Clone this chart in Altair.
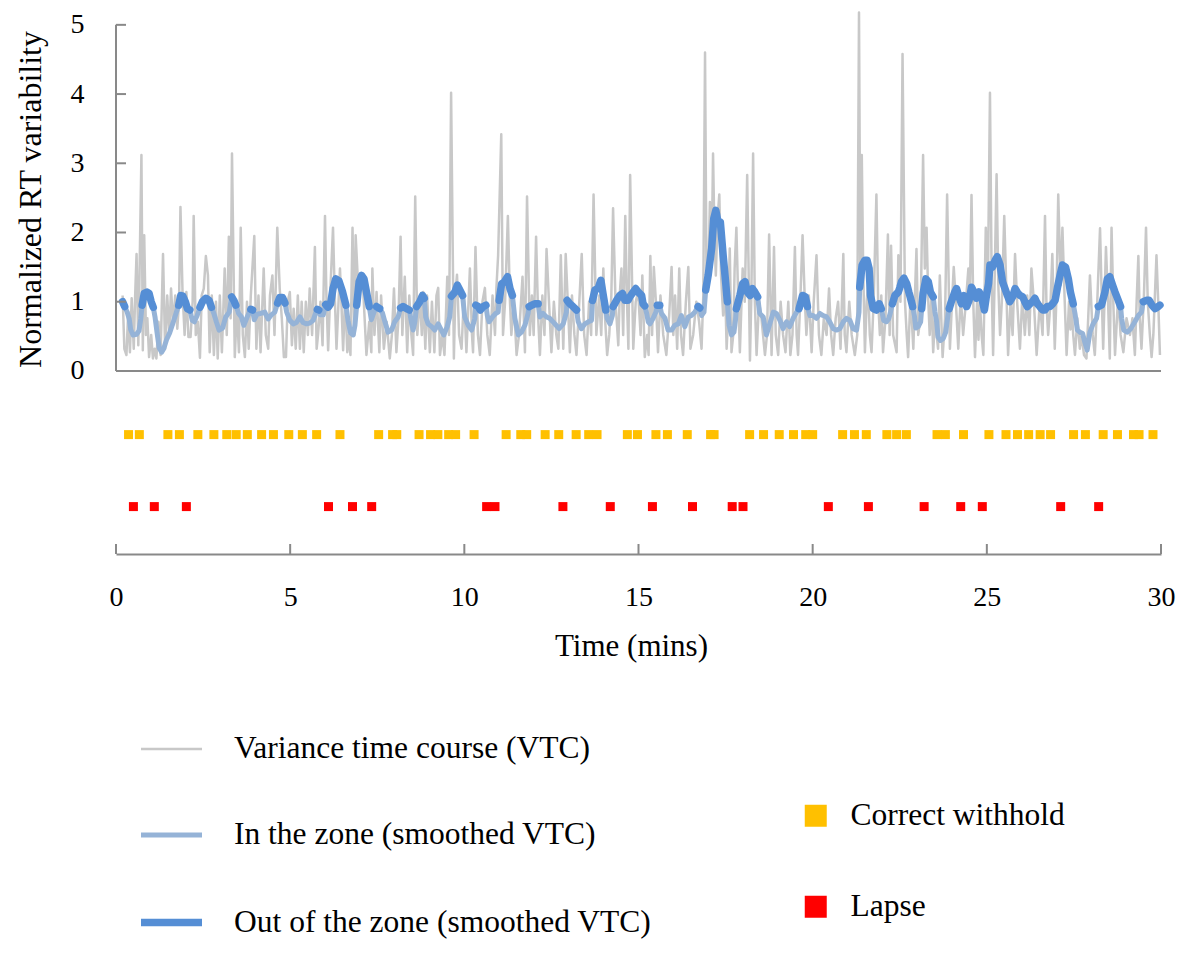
import altair as alt
import pandas as pd

# ---------------- data ----------------
GRAY_T = [0.19,0.24,0.30,0.35,0.40,0.45,0.51,0.55,0.59,0.64,0.67,0.73,0.77,0.81,0.86,0.90,0.95,1.01,1.06,1.11,
          1.16,1.22,1.28,1.35,1.41,1.47,1.53,1.58,1.64,1.70,1.76,1.81,1.85,1.91,1.97,2.02,2.08,2.14,2.20,2.23,
          2.29,2.35,2.41,2.46,2.52,2.58,2.64,2.69,2.75,2.81,2.87,2.92,2.98,3.04,3.12,3.18,3.24,3.29,3.33,3.41,
          3.47,3.53,3.58,3.64,3.70,3.76,3.81,3.87,3.97,4.03,4.09,4.15,4.24,4.30,4.37,4.42,4.49,4.55,4.63,4.70,
          4.76,4.82,4.88,4.93,4.99,5.05,5.10,5.16,5.22,5.28,5.33,5.39,5.45,5.51,5.56,5.63,5.71,5.76,5.80,5.87,
          5.93,6.00,6.04,6.09,6.16,6.23,6.28,6.33,6.43,6.47,6.52,6.58,6.64,6.69,6.73,6.79,6.84,6.88,6.95,7.02,
          7.10,7.19,7.27,7.33,7.36,7.42,7.48,7.56,7.61,7.69,7.77,7.86,7.92,7.98,8.05,8.11,8.17,8.22,8.29,8.36,
          8.42,8.48,8.53,8.59,8.65,8.72,8.78,8.82,8.88,8.93,9.01,9.07,9.14,9.20,9.25,9.30,9.37,9.43,9.51,9.56,
          9.62,9.70,9.74,9.79,9.85,9.92,9.99,10.06,10.16,10.22,10.25,10.32,10.39,10.45,10.52,10.59,10.66,10.73,10.81,10.88,
          10.92,10.97,11.06,11.11,11.17,11.25,11.31,11.35,11.42,11.50,11.57,11.67,11.74,11.80,11.88,11.94,11.99,12.06,12.12,12.17,
          12.24,12.30,12.36,12.43,12.50,12.57,12.64,12.70,12.77,12.84,12.91,12.97,13.03,13.09,13.16,13.22,13.30,13.37,13.44,13.51,
          13.58,13.64,13.71,13.79,13.87,13.93,13.99,14.04,14.10,14.16,14.22,14.27,14.34,14.42,14.46,14.51,14.56,14.62,14.67,14.71,
          14.76,14.85,14.92,14.99,15.06,15.11,15.18,15.25,15.29,15.34,15.39,15.44,15.50,15.56,15.63,15.71,15.80,15.88,15.95,16.00,
          16.05,16.11,16.17,16.22,16.28,16.36,16.43,16.49,16.57,16.66,16.74,16.81,16.86,16.91,16.95,17.00,17.05,17.10,17.14,17.18,
          17.22,17.27,17.32,17.37,17.43,17.48,17.53,17.57,17.62,17.67,17.72,17.76,17.81,17.86,17.91,17.99,18.05,18.12,18.20,18.24,
          18.29,18.34,18.39,18.46,18.53,18.63,18.69,18.75,18.82,18.89,18.94,19.01,19.08,19.15,19.22,19.30,19.36,19.42,19.49,19.54,
          19.58,19.65,19.71,19.77,19.82,19.89,19.97,20.03,20.11,20.18,20.25,20.32,20.40,20.47,20.53,20.59,20.66,20.73,20.80,20.88,
          20.92,20.97,21.05,21.12,21.21,21.28,21.33,21.37,21.41,21.45,21.50,21.55,21.59,21.64,21.69,21.75,21.83,21.88,21.93,21.97,
          22.02,22.09,22.16,22.21,22.25,22.31,22.41,22.46,22.52,22.58,22.65,22.70,22.74,22.81,22.89,22.93,22.98,23.03,23.10,23.17,
          23.22,23.27,23.32,23.36,23.41,23.46,23.51,23.56,23.60,23.65,23.73,23.80,23.86,23.94,24.00,24.05,24.11,24.18,24.25,24.32,
          24.40,24.47,24.51,24.56,24.61,24.66,24.72,24.76,24.80,24.85,24.90,24.97,25.03,25.09,25.14,25.18,25.23,25.28,25.33,25.38,
          25.43,25.50,25.57,25.61,25.68,25.74,25.81,25.87,25.95,26.02,26.09,26.16,26.22,26.28,26.35,26.43,26.52,26.60,26.67,26.71,
          26.76,26.83,26.88,26.95,27.00,27.05,27.12,27.17,27.23,27.29,27.36,27.40,27.43,27.48,27.53,27.60,27.67,27.72,27.79,27.86,
          27.91,27.96,28.04,28.10,28.17,28.25,28.29,28.34,28.42,28.48,28.53,28.58,28.63,28.68,28.77,28.84,28.92,29.01,29.11,29.18,
          29.25,29.30,29.35,29.39,29.44,29.51,29.57,29.62,29.68,29.73,29.78,29.87,29.92,29.97]
GRAY_V = [1.09,0.32,0.23,0.85,0.27,1.05,0.32,1.09,1.69,0.37,1.24,3.12,0.30,1.96,0.52,0.76,0.20,0.52,0.18,0.32,
          0.18,0.71,0.23,1.69,0.32,1.09,0.52,1.19,0.66,1.09,0.61,1.00,2.37,1.14,0.52,1.14,0.49,0.49,1.00,2.24,
          0.52,0.71,0.19,1.09,1.19,1.66,1.38,0.27,1.09,0.23,1.00,0.18,1.09,0.27,1.48,0.52,1.94,0.76,3.14,0.20,
          0.90,0.27,2.07,0.52,0.20,1.00,0.32,1.09,1.95,0.32,1.09,0.27,1.48,0.52,0.32,1.09,1.38,0.52,2.07,1.19,
          0.76,0.20,0.20,1.00,1.14,0.37,0.90,0.32,1.09,0.32,1.00,0.27,1.00,0.52,1.19,0.52,1.79,0.32,0.52,1.00,
          0.37,2.24,1.09,0.30,1.24,2.07,1.09,0.32,1.48,1.00,0.30,1.09,0.27,0.52,0.23,2.07,0.52,1.96,1.24,1.33,
          1.14,0.23,0.71,0.27,1.48,0.52,1.14,0.27,1.09,0.32,0.71,0.18,0.52,1.19,0.27,0.76,1.94,0.52,1.36,0.27,
          1.09,0.52,0.23,2.52,0.52,1.09,0.52,1.14,0.32,1.09,0.27,1.00,0.27,1.09,1.20,0.23,0.52,0.23,1.36,0.52,
          4.02,0.18,1.09,1.39,0.52,0.32,1.09,0.27,1.48,0.52,0.27,1.79,0.52,0.23,1.00,1.20,0.52,0.23,1.09,0.52,
          1.19,1.67,3.42,0.52,1.00,2.24,1.00,0.52,1.00,0.23,0.52,1.36,0.27,2.52,0.52,1.09,0.52,1.94,0.76,0.23,
          1.09,0.52,1.76,1.00,0.27,1.00,0.52,0.32,1.67,0.32,1.69,1.00,0.27,1.09,0.52,0.23,1.00,1.69,0.52,0.23,
          1.00,0.52,2.55,0.52,1.09,0.52,1.48,0.76,0.23,0.52,1.09,2.35,1.00,0.37,1.09,1.48,0.52,2.24,1.00,0.32,
          2.83,0.32,1.00,1.14,0.52,1.38,0.20,0.52,0.23,1.66,0.52,1.50,1.00,0.27,1.09,0.52,0.23,0.80,1.50,0.52,
          1.09,0.32,1.48,0.52,0.23,1.00,1.50,0.32,0.52,1.00,0.71,0.32,1.09,4.60,1.48,1.24,2.44,1.57,3.14,1.96,
          1.38,2.20,2.55,1.38,0.80,1.38,0.32,0.76,1.77,0.27,0.52,1.48,2.07,1.09,0.27,1.48,1.00,2.83,0.15,1.09,
          3.14,1.00,0.23,1.00,0.76,0.23,0.52,1.97,0.23,1.79,0.52,0.23,1.00,0.52,0.27,1.00,0.23,0.52,1.79,0.52,
          0.23,1.09,1.96,1.09,0.52,1.09,0.27,1.00,1.67,0.52,0.23,0.76,0.52,1.19,0.52,0.23,0.76,1.00,0.32,1.69,
          0.52,0.27,1.00,0.52,0.23,0.52,5.18,1.24,3.12,1.48,0.27,1.00,1.24,0.52,0.27,1.00,2.55,1.00,0.52,1.09,
          0.27,0.76,1.97,0.52,1.81,0.52,0.27,1.67,1.00,4.58,1.00,0.52,0.20,1.09,0.32,1.00,1.76,0.52,0.80,3.12,
          1.48,2.07,1.00,0.52,1.09,0.27,0.76,0.52,0.32,1.38,0.20,0.76,2.55,0.32,1.00,1.50,1.00,0.32,1.09,0.52,
          1.00,1.48,1.00,2.54,1.00,0.20,1.00,0.45,1.00,0.52,0.23,2.07,1.24,4.02,1.24,0.23,1.48,2.84,1.24,0.52,
          1.00,2.24,1.00,0.23,1.00,0.52,1.69,1.00,0.32,1.09,0.52,1.09,0.52,1.48,1.00,0.23,1.00,0.52,2.24,1.00,
          0.52,1.00,1.69,0.32,1.09,2.55,1.24,2.07,1.09,0.23,1.00,0.60,1.00,0.52,0.23,0.76,0.32,0.52,0.23,0.18,
          0.76,1.38,0.52,0.23,1.00,2.06,1.24,0.32,1.79,1.00,0.18,2.07,1.00,0.23,1.09,0.52,0.27,0.76,0.52,0.76,
          0.23,1.00,1.66,0.76,0.32,1.09,2.07,1.00,0.52,0.20,0.52,1.67,1.00,0.23]

SMOOTH_T = [0.19,0.25,0.32,0.38,0.42,0.49,0.59,0.66,0.71,0.75,0.81,0.89,0.95,1.01,1.07,1.12,1.18,1.24,1.31,1.37,
            1.45,1.54,1.64,1.74,1.80,1.86,1.92,1.99,2.05,2.12,2.19,2.25,2.33,2.41,2.48,2.58,2.67,2.74,2.81,2.88,
            2.96,3.06,3.15,3.25,3.32,3.38,3.44,3.52,3.60,3.67,3.75,3.82,3.87,3.92,3.97,4.05,4.15,4.27,4.37,4.46,
            4.56,4.64,4.70,4.78,4.85,4.90,4.99,5.09,5.18,5.28,5.37,5.47,5.56,5.66,5.74,5.78,5.82,5.86,5.95,6.02,
            6.09,6.16,6.23,6.31,6.40,6.50,6.60,6.66,6.73,6.81,6.86,6.91,6.98,7.05,7.12,7.19,7.27,7.33,7.40,7.48,
            7.57,7.65,7.72,7.81,7.91,8.00,8.10,8.17,8.24,8.34,8.42,8.48,8.53,8.58,8.63,8.72,8.80,8.85,8.89,8.96,
            9.06,9.15,9.25,9.34,9.41,9.51,9.58,9.63,9.73,9.80,9.87,9.95,10.01,10.11,10.21,10.30,10.33,10.40,10.46,10.54,
            10.62,10.66,10.71,10.81,10.90,10.97,11.00,11.07,11.14,11.24,11.31,11.38,11.45,11.55,11.64,11.74,11.83,11.86,11.94,12.02,
            12.12,12.17,12.26,12.36,12.45,12.60,12.72,12.84,12.93,12.95,13.03,13.12,13.22,13.27,13.36,13.46,13.56,13.65,13.68,13.75,
            13.84,13.92,13.99,14.06,14.10,14.18,14.25,14.27,14.37,14.46,14.54,14.61,14.70,14.75,14.85,14.92,14.99,15.09,15.13,15.18,
            15.23,15.28,15.33,15.42,15.50,15.54,15.61,15.66,15.76,15.85,15.95,16.04,16.14,16.23,16.33,16.43,16.52,16.62,16.71,16.76,
            16.81,16.88,16.93,17.00,17.10,17.16,17.22,17.29,17.35,17.43,17.50,17.55,17.60,17.67,17.74,17.79,17.81,17.91,17.99,18.06,
            18.12,18.20,18.27,18.34,18.42,18.48,18.58,18.67,18.77,18.87,18.96,19.06,19.15,19.25,19.34,19.44,19.54,19.61,19.71,19.79,
            19.85,19.92,20.01,20.11,20.21,20.30,20.40,20.49,20.59,20.68,20.78,20.88,20.97,21.07,21.16,21.26,21.33,21.35,21.42,21.50,
            21.56,21.62,21.66,21.74,21.83,21.91,21.97,22.04,22.12,22.18,22.23,22.29,22.36,22.46,22.50,22.55,22.62,22.70,22.76,22.81,
            22.87,22.92,22.96,23.03,23.10,23.13,23.17,23.25,23.32,23.38,23.46,23.51,23.56,23.60,23.67,23.75,23.82,23.89,23.92,23.98,
            24.08,24.13,24.20,24.27,24.34,24.42,24.49,24.56,24.63,24.70,24.78,24.85,24.93,24.99,25.05,25.09,25.16,25.24,25.30,25.38,
            25.45,25.52,25.59,25.66,25.74,25.81,25.87,25.95,26.03,26.09,26.16,26.24,26.31,26.38,26.45,26.52,26.60,26.67,26.73,26.81,
            26.89,26.96,27.03,27.10,27.17,27.26,27.34,27.40,27.48,27.53,27.60,27.67,27.75,27.81,27.88,27.96,28.05,28.15,28.20,28.29,
            28.39,28.46,28.53,28.61,28.68,28.75,28.84,28.87,28.93,29.03,29.13,29.25,29.35,29.44,29.49,29.59,29.66,29.74,29.83,29.92,
            29.97]
SMOOTH_V = [1.00,0.93,0.85,0.75,0.60,0.52,0.53,0.58,0.75,0.95,1.12,1.14,1.12,1.00,0.92,0.78,0.55,0.33,0.27,0.32,
            0.45,0.55,0.70,0.86,0.95,1.09,1.08,1.00,0.90,0.88,0.73,0.71,0.80,0.92,1.00,1.05,1.02,0.92,0.83,0.71,
            0.59,0.62,0.78,0.85,1.07,1.02,0.95,0.83,0.78,0.66,0.76,0.84,0.89,0.88,0.74,0.82,0.83,0.85,0.75,0.81,
            0.85,0.98,1.06,1.06,0.98,0.85,0.73,0.68,0.70,0.78,0.70,0.68,0.69,0.73,0.85,0.89,0.88,0.81,0.81,0.96,
            0.92,0.97,1.19,1.33,1.30,1.15,0.95,0.73,0.55,0.52,0.66,0.95,1.29,1.38,1.33,1.14,0.93,0.74,0.84,0.93,
            0.90,0.84,0.71,0.56,0.59,0.71,0.78,0.91,0.93,0.90,0.88,0.71,0.59,0.71,0.93,1.00,1.09,1.05,0.78,0.68,
            0.64,0.59,0.68,0.59,0.52,0.64,0.78,1.08,1.14,1.24,1.17,1.09,0.78,0.66,0.59,0.76,0.95,0.93,0.88,0.93,
            0.95,0.80,0.71,0.78,0.83,0.85,1.02,1.26,1.28,1.36,1.19,1.09,0.76,0.52,0.56,0.66,0.83,0.93,0.95,0.97,
            0.97,0.78,0.83,0.78,0.76,0.68,0.61,0.68,0.85,1.02,0.97,0.93,0.88,0.71,0.61,0.68,0.71,0.73,1.02,1.17,
            1.19,1.31,1.09,0.88,0.76,0.68,0.80,0.93,1.02,1.09,1.12,1.02,1.02,1.07,1.14,1.19,1.14,1.09,0.97,0.94,
            0.84,0.71,0.68,0.76,0.85,0.95,0.95,0.83,0.76,0.59,0.59,0.66,0.68,0.80,0.64,0.78,0.80,0.85,0.93,0.91,
            0.80,0.85,1.17,1.38,1.77,2.20,2.32,2.13,2.15,1.67,1.29,1.00,0.66,0.52,0.56,0.76,0.90,1.09,1.26,1.29,
            1.14,1.09,1.19,1.14,1.07,0.83,0.78,0.52,0.68,0.85,0.83,0.73,0.61,0.71,0.64,0.76,0.85,0.90,1.09,1.07,
            0.93,0.80,0.80,0.76,0.83,0.80,0.78,0.71,0.61,0.59,0.61,0.71,0.76,0.73,0.61,0.59,0.85,1.21,1.53,1.60,
            1.60,1.48,1.09,0.90,0.88,0.97,0.90,0.73,0.71,0.75,0.84,0.97,1.09,1.14,1.20,1.29,1.34,1.26,1.14,1.05,
            0.93,0.80,0.62,0.64,0.71,0.90,1.12,1.33,1.29,1.14,1.07,0.85,0.71,0.49,0.44,0.47,0.56,0.83,0.90,1.00,
            1.14,1.19,1.07,0.97,1.09,0.93,1.02,1.21,1.14,1.05,1.14,1.07,0.88,1.09,1.26,1.53,1.50,1.60,1.65,1.53,
            1.29,1.19,1.09,1.00,1.07,1.19,1.14,1.09,1.07,1.00,0.93,0.97,1.00,1.05,0.97,0.93,0.88,0.88,0.93,0.93,
            0.97,1.02,1.21,1.38,1.53,1.50,1.33,1.14,0.97,0.83,0.59,0.56,0.54,0.42,0.30,0.56,0.68,0.76,0.93,0.95,
            1.14,1.33,1.36,1.24,1.14,1.05,0.93,0.76,0.59,0.56,0.61,0.71,0.80,0.85,1.00,1.02,1.02,0.95,0.90,0.93,
            0.95]

WITHHOLD_T = [0.36,0.67,1.49,1.82,2.35,2.81,3.18,3.45,3.77,4.18,4.52,4.96,5.35,5.76,6.43,7.54,7.94,8.06,8.70,9.03,
              9.24,9.55,9.75,10.28,11.20,11.62,11.79,12.32,12.71,13.21,13.57,13.81,14.68,14.97,15.50,15.83,16.40,17.07,17.17,18.19,
              18.59,19.04,19.45,19.80,20.00,20.86,21.20,21.54,22.13,22.41,22.69,23.57,23.81,24.33,25.06,25.55,25.88,26.20,26.53,26.83,
              27.49,27.83,28.34,28.75,29.21,29.37,29.77]
LAPSE_T = [0.50,1.10,2.02,6.10,6.79,7.34,10.64,10.88,12.83,14.19,15.40,16.55,17.69,18.00,20.45,21.60,23.20,24.25,24.87,27.12,28.21]

X_TICKS = [0, 5, 10, 15, 20, 25, 30]
Y_TICKS = [0, 1, 2, 3, 4, 5]
ZONE_THRESHOLD = 0.87

S_VTC = "Variance time course (VTC)"
S_IN = "In the zone (smoothed VTC)"
S_OUT = "Out of the zone (smoothed VTC)"
E_CW = "Correct withhold"
E_LAPSE = "Lapse"

# ---------------- layout constants ----------------
FONT = "Liberation Serif"
AXIS_GRAY = "#898989"
W, H = 1045, 543
Y_LO, Y_HI = -2.645, 5.2
ROW_CW, ROW_LAPSE = -0.92, -1.96

# ---------------- tables ----------------
gray = pd.DataFrame({"t": GRAY_T, "v": GRAY_V, "series": S_VTC})
smooth = pd.DataFrame({"t": SMOOTH_T, "v": SMOOTH_V, "series": S_IN})
seg, sid, prev = [], 0, False
for val in SMOOTH_V:
    out = val >= ZONE_THRESHOLD
    if out and not prev:
        sid += 1
    seg.append(sid if out else -1)
    prev = out
smooth["seg"] = seg
dark = smooth[smooth["seg"] >= 0].copy()
dark["series"] = S_OUT
events = pd.DataFrame({
    "t": WITHHOLD_T + LAPSE_T,
    "kind": [E_CW] * len(WITHHOLD_T) + [E_LAPSE] * len(LAPSE_T),
    "row": [ROW_CW] * len(WITHHOLD_T) + [ROW_LAPSE] * len(LAPSE_T),
})

x_axis = alt.Axis(values=X_TICKS, format="d", ticks=False, grid=False, labelFlush=False,
                  domainColor=AXIS_GRAY, domainWidth=2,
                  labelFont=FONT, labelFontSize=28, labelColor="#000", labelPadding=29,
                  title="Time (mins)", titleFont=FONT, titleFontSize=31, titleFontWeight="normal",
                  titleColor="#000", titleX=515, titleY=101, titleBaseline="alphabetic", titleAlign="center")
y_axis = alt.Axis(values=Y_TICKS, format="d", ticks=False, grid=False, domain=False, labelFlush=False,
                  labelFont=FONT, labelFontSize=28, labelColor="#000", labelPadding=32,
                  title="Normalized RT variability", titleFont=FONT, titleFontSize=32,
                  titleFontWeight="normal", titleColor="#000", titleAngle=270,
                  titleX=-76, titleY=188, titleBaseline="alphabetic", titleAlign="center")
x_scale = alt.Scale(domain=[0, 30], nice=False, zero=False)
y_scale = alt.Scale(domain=[Y_LO, Y_HI], nice=False, zero=False)

def xe(field):
    return alt.X(f"{field}:Q", scale=x_scale, axis=x_axis)

def ye(field):
    return alt.Y(f"{field}:Q", scale=y_scale, axis=y_axis)

line_dom = [S_VTC, S_IN, S_OUT]
line_legend = alt.Legend(title=None, orient="none", legendX=21, legendY=706, direction="vertical",
                         symbolType="stroke", symbolSize=3721, labelFont=FONT, labelFontSize=31.5,
                         labelColor="#000", labelOffset=28, rowPadding=37, padding=0, labelLimit=800)
stroke_enc = alt.Stroke("series:N", scale=alt.Scale(domain=line_dom, range=["#c8c8c8", "#95b3d7", "#558ed5"]),
                        legend=line_legend)
width_enc = alt.StrokeWidth("series:N", scale=alt.Scale(domain=line_dom, range=[2.5, 7.5, 7.5]),
                            legend=line_legend)

gray_layer = alt.Chart(gray).mark_line(strokeJoin="round").encode(
    x=xe("t"), y=ye("v"), stroke=stroke_enc, strokeWidth=width_enc, order="t:Q")
light_layer = alt.Chart(smooth).mark_line(strokeJoin="round", strokeCap="round").encode(
    x=xe("t"), y=ye("v"), stroke=stroke_enc, strokeWidth=width_enc, order="t:Q")
dark_layer = alt.Chart(dark).mark_line(strokeJoin="round", strokeCap="round").encode(
    x=xe("t"), y=ye("v"), stroke=stroke_enc, strokeWidth=width_enc, detail="seg:N", order="t:Q")

yline = alt.Chart(pd.DataFrame({"lo": [min(Y_TICKS)], "hi": [max(Y_TICKS)]})).mark_rule(
    color=AXIS_GRAY, strokeWidth=2).encode(x=alt.value(0), y=ye("lo"), y2="hi:Q")
xline_top = alt.Chart(pd.DataFrame({"base": [min(Y_TICKS)]})).mark_rule(
    color=AXIS_GRAY, strokeWidth=2).encode(y=ye("base"), x=alt.value(0), x2=alt.value(W))
yticks = alt.Chart(pd.DataFrame({"tick": Y_TICKS[1:]})).mark_rule(
    color=AXIS_GRAY, strokeWidth=2).encode(y=ye("tick"), x=alt.value(0), x2=alt.value(10))
xticks = alt.Chart(pd.DataFrame({"tick": X_TICKS})).mark_rule(
    color=AXIS_GRAY, strokeWidth=2).encode(x=xe("tick"), y=alt.value(H), y2=alt.value(H - 10))

event_legend = alt.Legend(title=None, orient="none", legendX=684, legendY=789, direction="vertical",
                          symbolType="square", symbolSize=484, symbolStrokeWidth=0,
                          labelFont=FONT, labelFontSize=31.5, labelColor="#000", labelOffset=19,
                          rowPadding=58, padding=0, labelLimit=800)
event_layer = alt.Chart(events).mark_square(size=81, opacity=1).encode(
    x=xe("t"), y=ye("row"),
    fill=alt.Fill("kind:N", scale=alt.Scale(domain=[E_CW, E_LAPSE], range=["#ffc000", "#ff0000"]),
                  legend=event_legend))

chart = alt.layer(gray_layer, light_layer, dark_layer, yline, xline_top, yticks, xticks, event_layer).properties(
    width=W, height=H,
    padding={"left": 108, "top": 3, "right": 18, "bottom": 389},
    autosize=alt.AutoSizeParams(type="none"),
    background="white",
).configure_view(stroke=None)

chart.save("out.html", embed_options={"renderer": "svg", "actions": False})
